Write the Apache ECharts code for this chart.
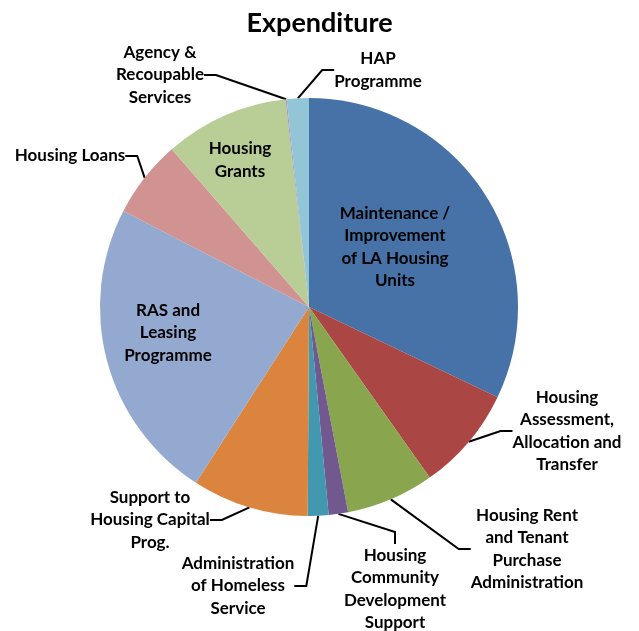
<!DOCTYPE html>
<html>
<head>
<meta charset="utf-8">
<script src="https://cdn.jsdelivr.net/npm/echarts@6/dist/echarts.min.js"></script>
<style>
  html, body { margin: 0; padding: 0; background: #fff; }
  #chart { width: 639px; height: 631px; }
</style>
</head>
<body>
<div id="chart"></div>
<script>
// categories and values (share of expenditure, %)
var categories = [
  'Maintenance /\nImprovement\nof LA Housing\nUnits',
  'Housing\nAssessment,\nAllocation and\nTransfer',
  'Housing Rent\nand Tenant\nPurchase\nAdministration',
  'Housing\nCommunity\nDevelopment\nSupport',
  'Administration\nof Homeless\nService',
  'Support to\nHousing Capital\nProg.',
  'RAS and\nLeasing\nProgramme',
  'Housing Loans',
  'Housing\nGrants',
  'Agency &\nRecoupable\nServices',
  'HAP\nProgramme'
]
var values = [32.1, 8.1, 6.8, 1.5, 1.6, 9.0, 23.5, 6.0, 9.6, 0.1, 1.7]

var colors = ['#4672A8', '#AA4644', '#89A54E', '#71588F', '#4198AF', '#DB843D',
  '#93A9CF', '#D19392', '#B9CD96', '#A99BBD', '#92C5D6']

// where each label sits (centre of the text block)
var labelPos = [
  [395, 247], [567, 431], [527, 549], [395, 589], [238, 586],
  [150, 520], [168, 333], [70, 156], [240, 160], [160, 75], [378, 70]
]
var insideIdx = [0, 6, 8]

var chart = echarts.init(document.getElementById('chart'))

chart.setOption({
  animation: false,
  title: {
    text: 'Expenditure',
    left: 'center',
    top: 5,
    textStyle: {
      fontFamily: 'Lato',
      fontWeight: 'bold',
      fontSize: 27,
      color: '#000'
    }
  },
  color: colors,
  series: [{
    type: 'pie',
    center: [309, 307],
    radius: 209,
    startAngle: 90,
    clockwise: true,
    avoidLabelOverlap: false,
    itemStyle: {
      borderColor: '#fff',
      borderWidth: 0
    },
    label: {
      show: true,
      position: 'outside',
      fontFamily: 'Lato',
      fontWeight: 'bold',
      fontSize: 17,
      lineHeight: 22.5,
      color: '#000',
      align: 'center'
    },
    labelLine: {
      show: true,
      length: 12,
      length2: 12,
      lineStyle: { color: '#000', width: 2 }
    },
    labelLayout: function (params) {
      var p = labelPos[params.dataIndex]
      return {
        x: p[0],
        y: p[1],
        align: 'center',
        verticalAlign: 'middle'
      }
    },
    data: categories.map(function (name, i) {
      var item = { name: name, value: values[i] }
      if (insideIdx.indexOf(i) >= 0) {
        item.label = { position: 'inside' }
        item.labelLine = { show: false }
      }
      return item
    })
  }]
})
</script>
</body>
</html>
